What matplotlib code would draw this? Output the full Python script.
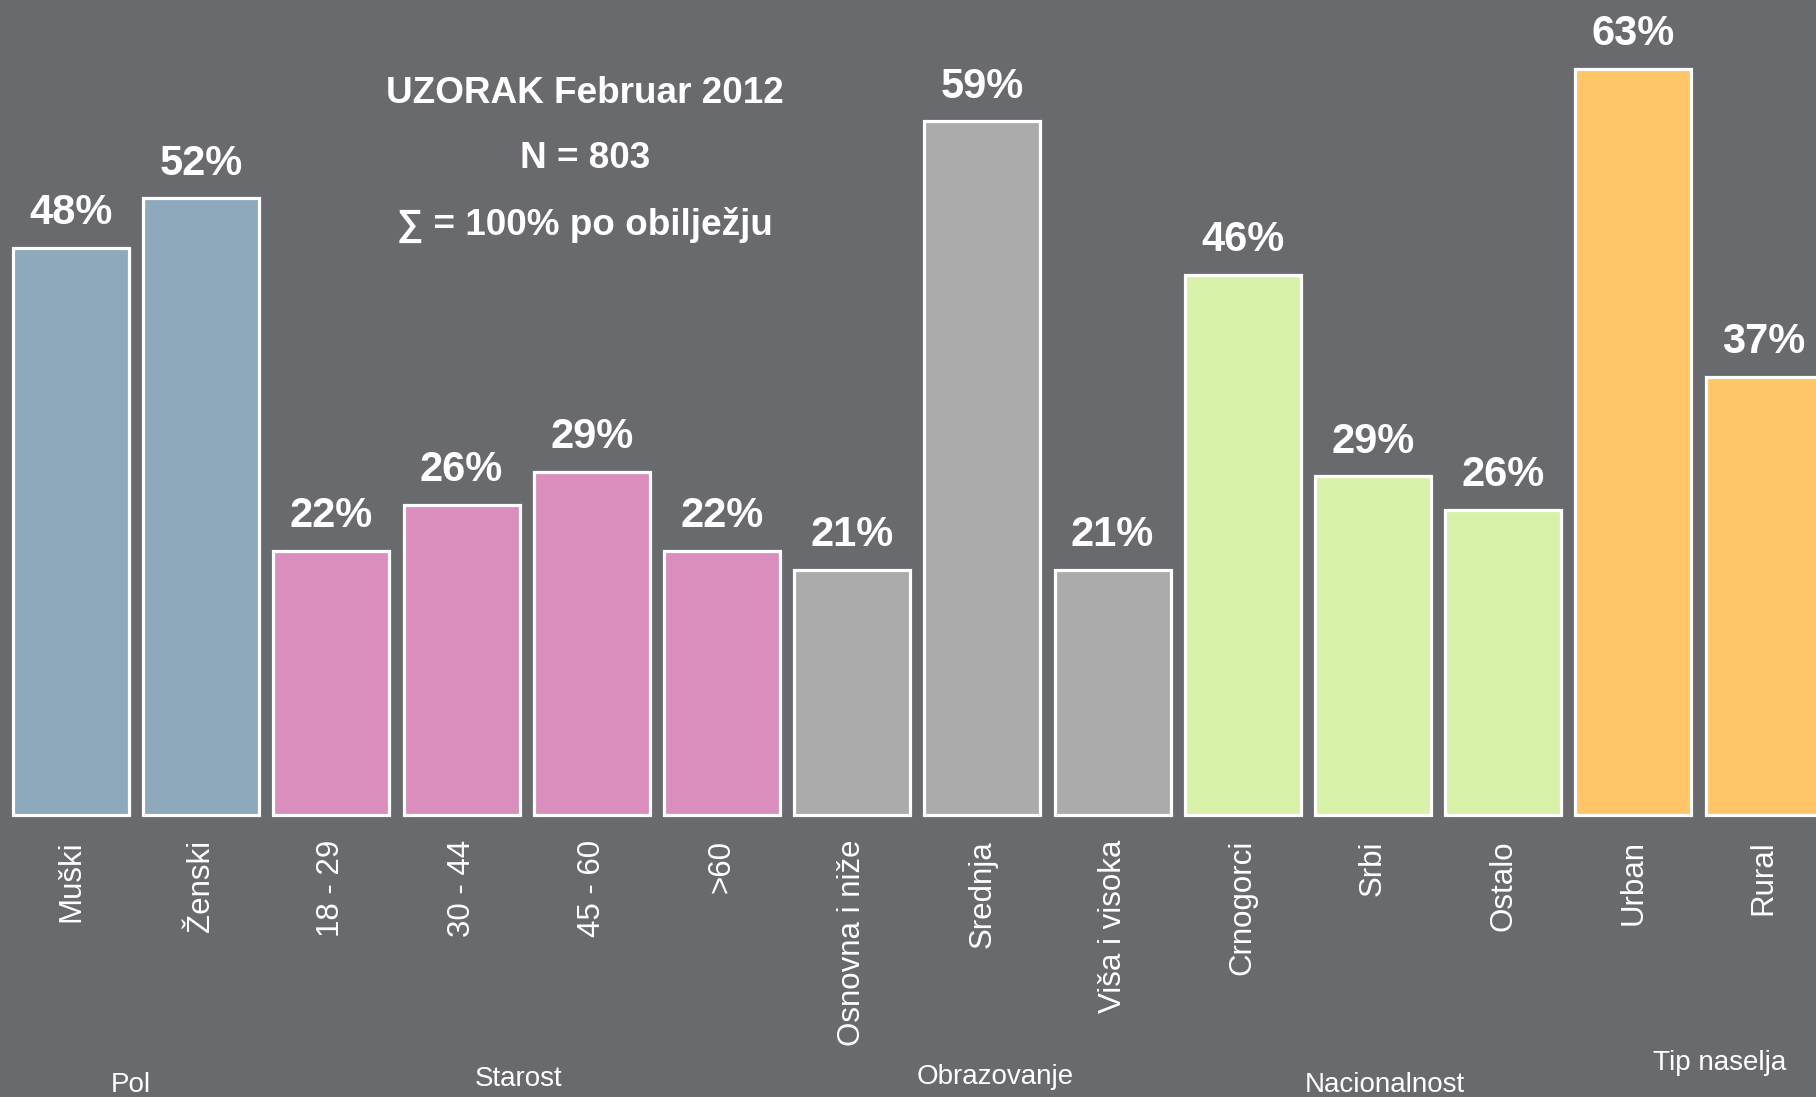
import matplotlib
matplotlib.use("Agg")
import matplotlib.pyplot as plt
import matplotlib.transforms as mtransforms

# ------ data ------
categories = ["Muški", "Ženski", "18 - 29", "30 - 44", "45 - 60", ">60",
              "Osnovna i niže", "Srednja", "Viša i visoka",
              "Crnogorci", "Srbi", "Ostalo", "Urban", "Rural"]
# bar heights (labels show them rounded)
values = [47.9, 52.1, 22.3, 26.2, 29.0, 22.3, 20.7, 58.6, 20.7,
          45.6, 28.6, 25.8, 63.0, 37.0]
groups = ["Pol", "Starost", "Obrazovanje", "Nacionalnost", "Tip naselja"]
group_sizes = [2, 4, 3, 3, 2]
title_lines = ["UZORAK Februar 2012", "N = 803", "\u2211 = 100% po obilježju"]

group_colors = ["#8FA9BC", "#DA8EBE", "#ABABAB", "#D8F1A8", "#FFC566"]
bg = "#696A6E"

plt.rcParams['font.family'] = ['Liberation Sans', 'DejaVu Sans']

fig = plt.figure(figsize=(18.16, 10.97), dpi=100, facecolor=bg)
ax = fig.add_axes([0, 282 / 1097, 1, 815 / 1097], facecolor=bg)

colors = []
for c, n in zip(group_colors, group_sizes):
    colors += [c] * n

x = list(range(len(categories)))
bars = ax.bar(x, values, width=0.89, color=colors, edgecolor="white",
              linewidth=2.3, clip_on=False)

for xi, v in zip(x, values):
    ax.annotate("{:.0f}%".format(v), (xi, v), xytext=(0, 17),
                textcoords="offset points", ha="center", va="baseline",
                fontsize=30, fontweight="bold", color="white",
                annotation_clip=False)

ax.set_xlim(-71 / 130.2, -71 / 130.2 + 1816 / 130.2)
ax.set_ylim(0, 815 / 11.84)
ax.set_xticks(x)
ax.set_xticklabels(categories, rotation=90, fontsize=22.5, color="white")
ax.tick_params(axis="x", length=0, pad=18)
ax.set_yticks([])
for s in ax.spines.values():
    s.set_visible(False)

# group labels below the ticks
trans = mtransforms.blended_transform_factory(ax.transData, fig.transFigure)
group_x = [0.46, 3.44, 7.10, 10.09, 12.66]
group_base = [1092, 1086, 1084, 1092, 1070]
for g, gx, gy in zip(groups, group_x, group_base):
    ax.text(gx, (1097 - gy) / 1097, g, transform=trans, ha="center",
            va="baseline", fontsize=20, color="white")

# title block
for line, yb in zip(title_lines, [103, 168, 235]):
    fig.text(585 / 1816, (1097 - yb) / 1097, line, ha="center",
             va="baseline", fontsize=26.6, fontweight="bold", color="white")

fig.savefig("out.png", dpi=100, facecolor=bg)
